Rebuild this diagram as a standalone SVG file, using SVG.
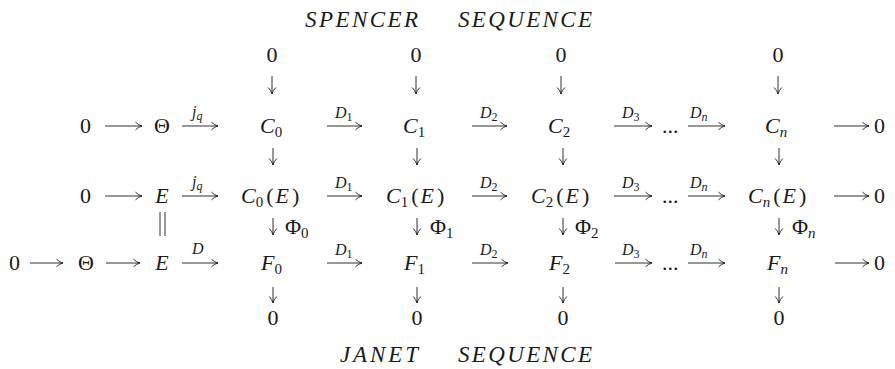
<svg xmlns="http://www.w3.org/2000/svg" width="895" height="369" viewBox="0 0 895 369">
<style>
text{font-family:"Liberation Serif","DejaVu Serif",serif;font-size:22px;fill:#1a1a1a}
.i{font-style:italic}
.t{font-size:23px}
.lbl{font-size:16px}
.sub{font-size:15px}
.lsub{font-size:12px}
.c{text-anchor:middle}
.ar{stroke:#1a1a1a;stroke-width:0.9;fill:none;marker-end:url(#ah)}
.eq{stroke:#1a1a1a;stroke-width:0.9;fill:none}
</style>
<defs>
<marker id="ah" markerWidth="10" markerHeight="10" refX="8" refY="5" orient="auto" markerUnits="userSpaceOnUse">
<path d="M1.5,1.2 Q4.5,4.2 8,5 Q4.5,5.8 1.5,8.8" fill="none" stroke="#1a1a1a" stroke-width="0.9"/>
</marker>
</defs>

<g id="titles">
<text id="spencer" class="i t" x="305" y="27" textLength="113" lengthAdjust="spacing">SPENCER</text>
<text id="seq1" class="i t" x="458" y="27" textLength="134" lengthAdjust="spacing">SEQUENCE</text>
<text id="janet" class="i t" x="340" y="362" textLength="78" lengthAdjust="spacing">JANET</text>
<text id="seq2" class="i t" x="458" y="362" textLength="134" lengthAdjust="spacing">SEQUENCE</text>
</g>

<!-- top zeros -->
<g id="z0t"><text class="c" x="272" y="62">0</text></g>
<g id="z1t"><text class="c" x="416" y="62">0</text></g>
<g id="z2t"><text class="c" x="561" y="62">0</text></g>
<g id="znt"><text class="c" x="778" y="62">0</text></g>

<!-- row 1 -->
<g id="r1z"><text class="c" x="85.5" y="133">0</text></g>
<g id="r1theta"><text class="c" x="162" y="133">Θ</text></g>
<g id="C0"><text x="260" y="133"><tspan class="i">C</tspan><tspan class="sub" dy="4">0</tspan></text></g>
<g id="C1"><text x="403" y="133"><tspan class="i">C</tspan><tspan class="sub" dy="4">1</tspan></text></g>
<g id="C2"><text x="548" y="133"><tspan class="i">C</tspan><tspan class="sub" dy="4">2</tspan></text></g>
<g id="r1dots"><text x="662" y="133">...</text></g>
<g id="Cn"><text x="765" y="133"><tspan class="i">C</tspan><tspan class="sub i" dy="4">n</tspan></text></g>
<g id="r1end"><text x="874" y="133">0</text></g>

<!-- row 2 -->
<g id="r2z"><text class="c" x="85.5" y="203">0</text></g>
<g id="r2E"><text class="i c" x="162" y="203">E</text></g>
<g id="C0E"><text x="241" y="203"><tspan class="i">C</tspan><tspan class="sub" dy="4">0</tspan><tspan dy="-4" dx="3">(</tspan><tspan class="i" dx="2">E</tspan><tspan dx="3">)</tspan></text></g>
<g id="C1E"><text x="386" y="203"><tspan class="i">C</tspan><tspan class="sub" dy="4">1</tspan><tspan dy="-4" dx="3">(</tspan><tspan class="i" dx="2">E</tspan><tspan dx="3">)</tspan></text></g>
<g id="C2E"><text x="531" y="203"><tspan class="i">C</tspan><tspan class="sub" dy="4">2</tspan><tspan dy="-4" dx="3">(</tspan><tspan class="i" dx="2">E</tspan><tspan dx="3">)</tspan></text></g>
<g id="r2dots"><text x="662" y="203">...</text></g>
<g id="CnE"><text x="748" y="203"><tspan class="i">C</tspan><tspan class="sub i" dy="4">n</tspan><tspan dy="-4" dx="3">(</tspan><tspan class="i" dx="2">E</tspan><tspan dx="3">)</tspan></text></g>
<g id="r2end"><text x="874" y="203">0</text></g>

<!-- Phi labels -->
<g id="phi0"><text x="285" y="234">Φ<tspan class="sub" dy="4">0</tspan></text></g>
<g id="phi1"><text x="430" y="234">Φ<tspan class="sub" dy="4">1</tspan></text></g>
<g id="phi2"><text x="575" y="234">Φ<tspan class="sub" dy="4">2</tspan></text></g>
<g id="phin"><text x="792" y="234">Φ<tspan class="sub i" dy="4">n</tspan></text></g>

<!-- row 3 -->
<g id="r3z"><text class="c" x="14.5" y="270">0</text></g>
<g id="r3theta"><text class="c" x="86" y="270">Θ</text></g>
<g id="r3E"><text class="i c" x="162" y="270">E</text></g>
<g id="F0"><text x="261" y="270"><tspan class="i">F</tspan><tspan class="sub" dy="4">0</tspan></text></g>
<g id="F1"><text x="404" y="270"><tspan class="i">F</tspan><tspan class="sub" dy="4">1</tspan></text></g>
<g id="F2"><text x="549" y="270"><tspan class="i">F</tspan><tspan class="sub" dy="4">2</tspan></text></g>
<g id="r3dots"><text x="662" y="270">...</text></g>
<g id="Fn"><text x="767" y="270"><tspan class="i">F</tspan><tspan class="sub i" dy="4">n</tspan></text></g>
<g id="r3end"><text x="874" y="270">0</text></g>

<!-- bottom zeros -->
<g id="z0b"><text class="c" x="273" y="325">0</text></g>
<g id="z1b"><text class="c" x="417" y="325">0</text></g>
<g id="z2b"><text class="c" x="563" y="325">0</text></g>
<g id="znb"><text class="c" x="779" y="325">0</text></g>

<g id="connectors">
<!-- row 1 horizontal -->
<line class="ar" x1="105" y1="126" x2="142" y2="126"/>
<line class="ar" x1="182" y1="126" x2="218" y2="126"/>
<line class="ar" x1="327" y1="126" x2="362" y2="126"/>
<line class="ar" x1="472" y1="126" x2="507" y2="126"/>
<line class="ar" x1="614" y1="126" x2="652" y2="126"/>
<line class="ar" x1="688" y1="126" x2="725" y2="126"/>
<line class="ar" x1="834" y1="126" x2="869" y2="126"/>
<!-- row 2 horizontal -->
<line class="ar" x1="105" y1="196" x2="142" y2="196"/>
<line class="ar" x1="182" y1="196" x2="218" y2="196"/>
<line class="ar" x1="327" y1="196" x2="362" y2="196"/>
<line class="ar" x1="472" y1="196" x2="507" y2="196"/>
<line class="ar" x1="614" y1="196" x2="652" y2="196"/>
<line class="ar" x1="688" y1="196" x2="725" y2="196"/>
<line class="ar" x1="834" y1="196" x2="869" y2="196"/>
<!-- row 3 horizontal -->
<line class="ar" x1="30" y1="263" x2="63" y2="263"/>
<line class="ar" x1="106" y1="263" x2="140" y2="263"/>
<line class="ar" x1="182" y1="263" x2="218" y2="263"/>
<line class="ar" x1="327" y1="263" x2="362" y2="263"/>
<line class="ar" x1="472" y1="263" x2="508" y2="263"/>
<line class="ar" x1="615" y1="263" x2="652" y2="263"/>
<line class="ar" x1="688" y1="263" x2="725" y2="263"/>
<line class="ar" x1="835" y1="263" x2="869" y2="263"/>
<!-- vertical: top -->
<line class="ar" x1="272" y1="76" x2="272" y2="94"/>
<line class="ar" x1="416" y1="76" x2="416" y2="94"/>
<line class="ar" x1="561" y1="76" x2="561" y2="94"/>
<line class="ar" x1="778" y1="76" x2="778" y2="94"/>
<!-- vertical: row1 to row2 -->
<line class="ar" x1="273" y1="148" x2="273" y2="165"/>
<line class="ar" x1="417" y1="148" x2="417" y2="165"/>
<line class="ar" x1="563" y1="148" x2="563" y2="165"/>
<line class="ar" x1="779" y1="148" x2="779" y2="165"/>
<!-- vertical: Phi -->
<line class="ar" x1="273" y1="218" x2="273" y2="235"/>
<line class="ar" x1="417" y1="218" x2="417" y2="235"/>
<line class="ar" x1="563" y1="218" x2="563" y2="235"/>
<line class="ar" x1="779" y1="218" x2="779" y2="235"/>
<!-- vertical: bottom -->
<line class="ar" x1="273" y1="287" x2="273" y2="303"/>
<line class="ar" x1="417" y1="287" x2="417" y2="303"/>
<line class="ar" x1="563" y1="287" x2="563" y2="303"/>
<line class="ar" x1="779" y1="287" x2="779" y2="303"/>
<!-- equality -->
<line class="eq" x1="160" y1="212" x2="160" y2="236"/>
<line class="eq" x1="165" y1="212" x2="165" y2="236"/>
<!-- arrow labels -->
<text class="lbl i" x="192" y="117">j<tspan class="lsub" dy="3">q</tspan></text>
<text class="lbl i" x="335" y="118">D<tspan class="lsub" dy="3" font-style="normal">1</tspan></text>
<text class="lbl i" x="480" y="118">D<tspan class="lsub" dy="3" font-style="normal">2</tspan></text>
<text class="lbl i" x="622" y="118">D<tspan class="lsub" dy="3" font-style="normal">3</tspan></text>
<text class="lbl i" x="690" y="118">D<tspan class="lsub" dy="3">n</tspan></text>
<text class="lbl i" x="192" y="187">j<tspan class="lsub" dy="3">q</tspan></text>
<text class="lbl i" x="335" y="188">D<tspan class="lsub" dy="3" font-style="normal">1</tspan></text>
<text class="lbl i" x="480" y="188">D<tspan class="lsub" dy="3" font-style="normal">2</tspan></text>
<text class="lbl i" x="622" y="188">D<tspan class="lsub" dy="3" font-style="normal">3</tspan></text>
<text class="lbl i" x="690" y="188">D<tspan class="lsub" dy="3">n</tspan></text>
<text class="lbl i" x="192" y="254">D</text>
<text class="lbl i" x="335" y="255">D<tspan class="lsub" dy="3" font-style="normal">1</tspan></text>
<text class="lbl i" x="480" y="255">D<tspan class="lsub" dy="3" font-style="normal">2</tspan></text>
<text class="lbl i" x="622" y="255">D<tspan class="lsub" dy="3" font-style="normal">3</tspan></text>
<text class="lbl i" x="690" y="255">D<tspan class="lsub" dy="3">n</tspan></text>
</g>
</svg>
